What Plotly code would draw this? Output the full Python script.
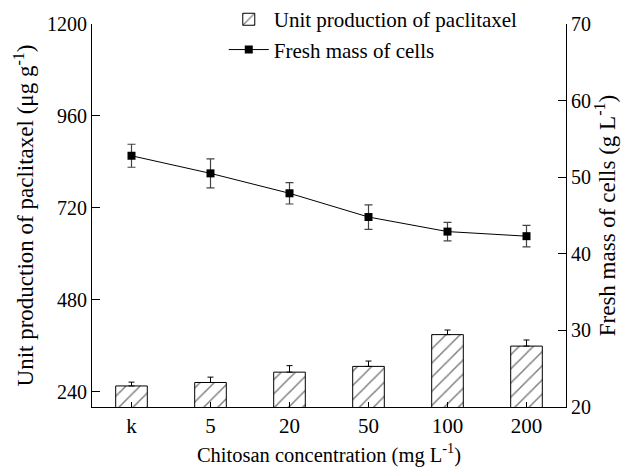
import plotly.graph_objects as go

categories = ["k", "5", "20", "50", "100", "200"]
paclitaxel = [255, 264, 291, 306, 389, 359]
paclitaxel_err = [10, 14, 17, 14, 12, 16]
fresh_mass = [52.8, 50.5, 47.9, 44.8, 42.9, 42.3]
fresh_mass_err = [1.5, 1.9, 1.4, 1.6, 1.2, 1.4]
left_ticks = [240, 480, 720, 960, 1200]
right_ticks = [20, 30, 40, 50, 60, 70]

FONT = "Liberation Serif, Times New Roman, serif"

fig = go.Figure()
fig.add_trace(go.Bar(
    x=categories, y=paclitaxel, name="Unit production of paclitaxel",
    width=0.4,
    marker=dict(color="white", line=dict(color="black", width=1),
                pattern=dict(shape="/", fgcolor="black", bgcolor="white", size=10, solidity=0.15)),
    error_y=dict(type="data", array=paclitaxel_err, arrayminus=[0]*6, symmetric=False,
                 color="black", thickness=1, width=3),
    yaxis="y",
))
fig.add_trace(go.Scatter(
    x=categories, y=fresh_mass, name="Fresh mass of cells",
    mode="lines+markers",
    line=dict(color="black", width=1),
    marker=dict(symbol="square", size=8, color="black"),
    error_y=dict(type="data", array=fresh_mass_err, color="#444", thickness=1.2, width=4),
    yaxis="y2",
))

fig.update_layout(
    width=623, height=467,
    margin=dict(l=92, r=57, t=24, b=60, autoexpand=False),
    plot_bgcolor="white", paper_bgcolor="white",
    font=dict(family=FONT, size=20, color="black"),
    showlegend=True,
    legend=dict(x=0.278, y=1.065, xanchor="left", yanchor="top",
                bgcolor="rgba(0,0,0,0)", font=dict(size=21, family=FONT),
                tracegroupgap=0, itemwidth=40),
    xaxis=dict(type="category", showline=True, linecolor="black", linewidth=1,
               ticks="inside", ticklen=5, tickcolor="black", showgrid=False,
               range=[-0.5, 5.5], tickfont=dict(size=21),
               title=dict(text="Chitosan concentration (mg L<sup>-1</sup>)", standoff=10,
                          font=dict(size=20.5))),
    yaxis=dict(range=[200, 1200], tickvals=left_ticks, showline=True, linecolor="black",
               linewidth=1, ticks="inside", ticklen=8, tickcolor="black", showgrid=False,
               zeroline=False,
               title=dict(text="Unit production of paclitaxel (μg g<sup>-1</sup>)", standoff=6,
                          font=dict(size=23))),
    yaxis2=dict(range=[20, 70], tickvals=right_ticks, overlaying="y", side="right",
                showline=True, linecolor="black", linewidth=1, ticks="inside", ticklen=8,
                tickcolor="black", showgrid=False, zeroline=False,
                title=dict(text="Fresh mass of cells (g L<sup>-1</sup>)", standoff=8,
                           font=dict(size=23))),
)

fig.write_html("out.html")
